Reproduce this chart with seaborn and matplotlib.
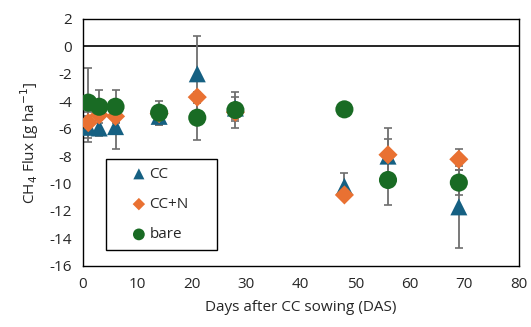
import seaborn as sns
import matplotlib.pyplot as plt
import pandas as pd
from matplotlib.patches import Rectangle

sns.set_style("white")
plt.rcParams['font.family'] = ['Open Sans', 'DejaVu Sans']
plt.rcParams['axes.unicode_minus'] = False

# days after sowing
days = [1, 3, 6, 14, 21, 28, 48, 56, 69]

# mean CH4 flux per treatment
cc = [-5.9, -5.95, -5.85, -5.1, -2.0, -4.5, -10.2, -8.0, -11.7]
ccn = [-5.56, -5.0, -5.1, -4.9, -3.7, -4.8, -10.83, -7.9, -8.23]
bare = [-4.1, -4.4, -4.4, -4.83, -5.2, -4.64, -4.59, -9.74, -9.93]

# error bar half-widths
cc_err = [1.1, 0.55, 1.65, 0.6, 2.76, 0.8, 0.95, 1.25, 2.97]
ccn_err = [0.5, 0.4, 0.4, 0.4, 0.4, 0.66, 0.3, 1.93, 0.75]
bare_err = [2.55, 1.2, 1.2, 0.87, 1.6, 1.34, 0.1, 1.82, 0.93]

treatments = ['CC', 'CC+N', 'bare']
colors = {'CC': '#156082', 'CC+N': '#E97132', 'bare': '#196B24'}
markers = {'CC': '^', 'CC+N': 'D', 'bare': 'o'}
sizes = {'CC': 150, 'CC+N': 95, 'bare': 170}

df = pd.DataFrame({
    'DAS': days * 3,
    'Flux': cc + ccn + bare,
    'Err': cc_err + ccn_err + bare_err,
    'Treatment': ['CC'] * 9 + ['CC+N'] * 9 + ['bare'] * 9,
})

fig = plt.figure(figsize=(5.31, 3.27), dpi=100)
ax = fig.add_axes([0.156, 0.187, 0.821, 0.755])

# error bars behind the markers
ax.errorbar(df['DAS'], df['Flux'], yerr=df['Err'], fmt='none',
            ecolor='#6e6e6e', elinewidth=1.3, capsize=3, capthick=1.2, zorder=1)

for t in treatments:
    sub = df[df['Treatment'] == t]
    sns.scatterplot(data=sub, x='DAS', y='Flux', marker=markers[t], s=sizes[t],
                    color=colors[t], edgecolor='none', label=t, ax=ax, zorder=3)

ax.axhline(0, color='black', lw=1.2, zorder=0)

ax.set_xlim(0, 80)
ax.set_ylim(-16, 2)
ax.set_xticks(range(0, 81, 10))
ax.set_yticks(range(-16, 3, 2))
ax.tick_params(labelsize=11, length=0, pad=8)
for s in ax.spines.values():
    s.set_color('black')
    s.set_linewidth(1.0)

ax.set_xlabel('Days after CC sowing (DAS)', fontsize=11, labelpad=6)
ax.set_ylabel('CH$_4$ Flux [g ha$^{-1}$]', fontsize=11, labelpad=6)

# legend contents without frame, box drawn separately
ax.legend(loc='upper left', bbox_to_anchor=(0.111, 0.401), fontsize=11,
          frameon=False, handletextpad=0.2, markerscale=0.65, borderpad=0,
          labelspacing=1.0, handlelength=1.0, borderaxespad=0)
ax.add_patch(Rectangle((0.052, 0.065), 0.255, 0.368, transform=ax.transAxes,
                       fill=False, edgecolor='black', lw=1.0, zorder=5))

fig.savefig('out.png', dpi=100)
